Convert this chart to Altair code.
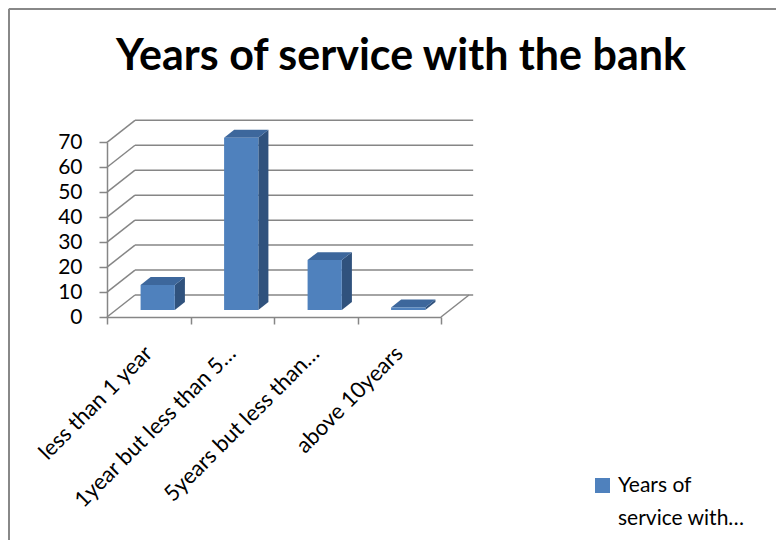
import altair as alt
import pandas as pd

# ---- data ----
CATEGORIES = ["less than 1 year", "1year but less than 5…", "5years but less than…", "above 10years"]
VALUES = [10, 69, 20, 1]
SERIES = "Years of service with…"
TITLE = "Years of service with the bank"
Y_TICKS = [0, 10, 20, 30, 40, 50, 60, 70]
X_TICKS = [0, 1, 2, 3, 4]

# ---- geometry / style ----
W, H = 768, 532
X_RANGE = [99, 433]
Y_RANGE = [309, 134.3]
PX_X = (X_RANGE[1] - X_RANGE[0]) / 4.0
PX_Y = (Y_RANGE[0] - Y_RANGE[1]) / 70.0
DX = 28 / PX_X          # depth in x units
DY = 22 / PX_Y          # depth in y units
F0, F1 = 0.32, 0.68     # bar depth fractions
BL, BR = 0.295, 0.705   # bar left/right within category
GRID = "#868686"
FRONT = "#4F81BD"
SIDE = "#30527D"
TOP = "#3D679C"
FONT = "Lato"

xs = alt.Scale(domain=[0, 4], range=X_RANGE, nice=False, zero=False)
ys = alt.Scale(domain=[0, 70], range=Y_RANGE, nice=False, zero=False)

AX = alt.Axis(values=X_TICKS, labels=False, ticks=True, tickSize=7, tickColor=GRID, tickWidth=1.5,
              domainColor=GRID, domainWidth=1.5, grid=False, title=None,
              offset=-(H - Y_RANGE[0]))
AY = alt.Axis(values=Y_TICKS, orient="left", tickSize=8, tickColor=GRID, tickWidth=1.5,
              domainColor=GRID, domainWidth=1.5, grid=False, title=None,
              labelFont=FONT, labelFontSize=21, labelColor="black", labelPadding=17,
              offset=-X_RANGE[0])

# back wall gridlines
back = pd.DataFrame({"v": Y_TICKS})
back["yb"] = back["v"] + DY
back["x0"] = 0.0
back["xa"] = DX
back["xb"] = 4 + DX + 0.05

walls = alt.Chart(back).mark_rule(color=GRID, strokeWidth=1.5).encode(
    x=alt.X("xa:Q", scale=xs, axis=AX), x2="xb:Q",
    y=alt.Y("yb:Q", scale=ys, axis=AY),
)

diag = alt.Chart(back).mark_rule(color=GRID, strokeWidth=1.5).encode(
    x=alt.X("x0:Q", scale=xs, axis=AX), x2="xa:Q",
    y=alt.Y("v:Q", scale=ys, axis=AY), y2="yb:Q",
)

edge = pd.DataFrame({"x0": [4.0], "x1": [4 + DX], "y0": [0.0], "y1": [DY]})
floor_edge = alt.Chart(edge).mark_rule(color=GRID, strokeWidth=1.5).encode(
    x=alt.X("x0:Q", scale=xs, axis=AX), x2="x1:Q",
    y=alt.Y("y0:Q", scale=ys, axis=AY), y2="y1:Q",
)

# bars
rows_front, rows_side, rows_top = [], [], []
for i, (c, v) in enumerate(zip(CATEGORIES, VALUES)):
    l, r = i + BL, i + BR
    rows_front.append({"cat": c, "series": SERIES, "x": l + F0 * DX, "x2": r + F0 * DX,
                       "y": F0 * DY, "y2": v + F0 * DY})
    for f in (F0, F1):
        rows_side.append({"cat": c, "x": r + f * DX, "ylo": f * DY, "yhi": v + f * DY})
        rows_top.append({"cat": c, "y": v + f * DY, "xl": l + f * DX, "xr": r + f * DX})

side = alt.Chart(pd.DataFrame(rows_side)).mark_area(orient="vertical", color=SIDE).encode(
    x=alt.X("x:Q", scale=xs, axis=AX),
    y=alt.Y("ylo:Q", scale=ys, axis=AY, stack=None),
    y2="yhi:Q",
    detail="cat:N",
)
top = alt.Chart(pd.DataFrame(rows_top)).mark_area(orient="horizontal", color=TOP).encode(
    y=alt.Y("y:Q", scale=ys, axis=AY),
    x=alt.X("xl:Q", scale=xs, axis=AX, stack=None),
    x2="xr:Q",
    detail="cat:N",
)
front = alt.Chart(pd.DataFrame(rows_front)).mark_rect().encode(
    x=alt.X("x:Q", scale=xs, axis=AX), x2="x2:Q",
    y=alt.Y("y:Q", scale=ys, axis=AY), y2="y2:Q",
    color=alt.Color("series:N", scale=alt.Scale(domain=[SERIES], range=[FRONT]),
                    legend=alt.Legend(orient="none", legendX=584, legendY=467, title=None,
                                      symbolType="square", symbolSize=225, symbolStrokeWidth=0,
                                      labelFont=FONT, labelFontSize=21, labelColor="black",
                                      labelOffset=5, padding=0, labelLimit=300,
                                      labelExpr="[slice(datum.label, 0, 8), slice(datum.label, 9)]")),
)

# category labels
lab = pd.DataFrame({"cat": CATEGORIES, "x": [i + 0.5 for i in range(len(CATEGORIES))], "y": 0.0})
labels = alt.Chart(lab).mark_text(angle=315, align="right", baseline="middle", font=FONT,
                                  fontSize=22, color="black", xOffset=0, yOffset=33).encode(
    x=alt.X("x:Q", scale=xs, axis=AX),
    y=alt.Y("y:Q", scale=ys, axis=AY),
    text="cat:N",
)

# chart area border (left and top; the rest is outside the window) and title
one = pd.DataFrame({"t": [TITLE]})
bl = alt.Chart(one).mark_rule(color="#888888", strokeWidth=2).encode(
    x=alt.value(1), y=alt.value(1), y2=alt.value(H))
bt = alt.Chart(one).mark_rule(color="#888888", strokeWidth=2).encode(
    x=alt.value(1), x2=alt.value(W), y=alt.value(1))
title = alt.Chart(one).mark_text(font=FONT, fontSize=43, fontWeight="bold", color="black",
                                 align="center", baseline="alphabetic").encode(
    x=alt.value(393), y=alt.value(62), text="t:N")

chart = alt.layer(walls, diag, floor_edge, side, top, front, labels, bl, bt, title).properties(
    width=W, height=H, padding=0, autosize=alt.AutoSizeParams(type="none"),
).configure_view(stroke=None).configure(
    style={"guide-label": {"lineHeight": 33}}
)

chart.save("out.html", embed_options={"renderer": "svg", "actions": False})
